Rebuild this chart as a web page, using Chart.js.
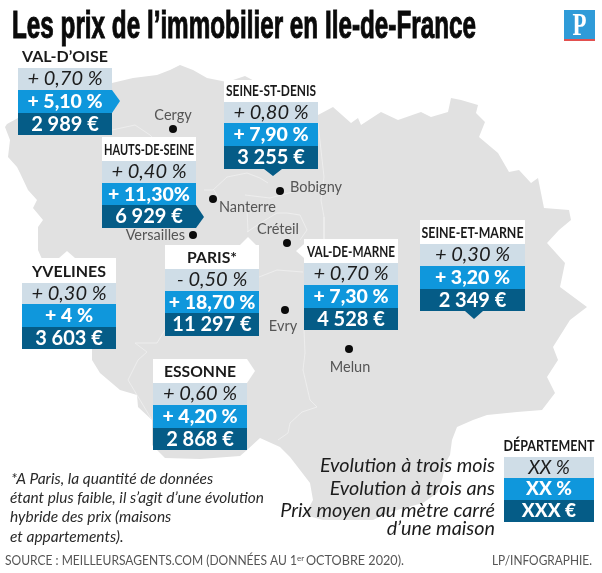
<!DOCTYPE html>
<html lang="fr"><head><meta charset="utf-8">
<style>html,body{margin:0;padding:0;background:#fff}canvas{display:block}</style>
<script src="https://cdn.jsdelivr.net/npm/chart.js@4"></script>
</head><body><canvas id="c" width="602" height="573"></canvas>
<script>
// ---------- values ----------
const departments = ["VAL-D’OISE","SEINE-ST-DENIS","HAUTS-DE-SEINE","YVELINES","PARIS*","ESSONNE","VAL-DE-MARNE","SEINE-ET-MARNE"];
const threeMonths = ["+ 0,70 %","+ 0,80 %","+ 0,40 %","+ 0,30 %","- 0,50 %","+ 0,60 %","+ 0,70 %","+ 0,30 %"];
const threeYears  = ["+ 5,10 %","+ 7,90 %","+ 11,30%","+ 4 %","+ 18,70 %","+ 4,20 %","+ 7,30 %","+ 3,20 %"];
const pricesM2    = ["2 989 €","3 255 €","6 929 €","3 603 €","11 297 €","2 868 €","4 528 €","2 349 €"];
const cityNames   = ["Cergy","Bobigny","Nanterre","Versailles","Créteil","Evry","Melun"];
const cityX       = [173,280,213,193,287,285,349];
const cityY       = [129,191,199,235,243,310,349];
const regionOutline = [[5,127],[7,124],[18,118],[18,100],[112,83],[133,78],[157,75],[170,70],[180,65],[193,70],[207,78],[227,82],[245,76],[318,115],[333,107],[351,123],[358,118],[361,125],[381,112],[398,120],[421,112],[431,117],[448,112],[451,98],[461,100],[478,105],[476,113],[485,122],[479,137],[498,153],[509,172],[519,170],[531,183],[538,178],[544,208],[569,210],[571,220],[559,230],[547,243],[565,263],[560,287],[587,307],[570,320],[553,347],[558,360],[547,377],[555,393],[542,410],[517,412],[487,415],[473,420],[457,427],[452,440],[450,455],[446,462],[442,480],[437,493],[423,503],[390,512],[373,520],[323,520],[305,515],[313,500],[310,483],[290,457],[280,447],[260,438],[247,450],[240,456],[200,459],[165,458],[152,445],[152,420],[138,407],[137,395],[120,390],[100,373],[92,360],[92,348],[60,300],[38,250],[38,227],[43,220],[33,208],[37,200],[28,190],[20,173],[17,167],[8,157],[10,140],[5,127]];
const borderLines = [
 [[152,420],[137,395],[128,380],[138,360],[147,352],[135,343],[157,343],[165,330]],
 [[278,440],[288,433],[290,423],[302,412],[317,407],[310,400],[303,370],[305,353],[304,330]],
 [[318,123],[324,177],[321,200],[324,217],[324,245]],
 [[204,190],[213,190],[227,177],[247,173],[260,178],[268,183]],
 [[245,195],[270,198],[300,190],[322,188]],
 [[247,232],[262,222],[277,213],[287,213],[300,215],[307,230],[300,240]],
 [[259,277],[277,270],[303,272]],
 [[112,130],[135,125],[150,135],[165,150]],
 [[214,190],[222,205],[247,208],[248,232]]
];
// ---------- layout ----------
const tableBox = [[18,112,68],[224,318,102],[102,196,161],[22,116,283],[165,259,269],[153,247,383],[304,398,263],[420,525,244]];
const labelTop = [46,80,137,258,245,359,239,220];
const rowEdges = [[22,45,67],[21,44,67],[22,44,67],[21,44,66],[22,44,67],[22,45,67],[22,45,67],[22,45,67]];
const LIGHT="#cfdde7",BLUE="#0f97dc",DARK="#055c87",MAP="#e1e1e1";

function poly(pts,color,w,line){
  const closed=!line;
  return {type:'scatter',showLine:true,data:pts.map(p=>({x:p[0],y:p[1]})),
    borderColor:line?color:'rgba(0,0,0,0)',borderWidth:line?w:0,backgroundColor:color,
    fill:closed?'shape':false,pointRadius:0,tension:0};
}
function rect(x0,x1,y0,y1){return [[x0,y0],[x1,y0],[x1,y1],[x0,y1],[x0,y0]];}

const paint=[];
paint.push(poly(regionOutline,MAP));
borderLines.forEach(l=>paint.push(poly(l,"#f0f0f0",0.8,true)));
departments.forEach((d,i)=>{
  const [x0,x1,top]=tableBox[i], lt=labelTop[i], e=rowEdges[i];
  let label=rect(x0,x1,lt,top);
  if(i===3) label=[[x0,lt],[59,lt],[67,251],[75,lt],[x1,lt],[x1,top],[x0,top],[x0,lt]];
  if(i===4) label=[[x0,lt],[240,lt],[248,237],[256,lt],[x1,lt],[x1,top],[x0,top],[x0,lt]];
  if(i===5) label=[[x0,lt],[x1,lt],[255,371],[x1,top],[x0,top],[x0,lt]];
  if(i===6) label=[[x0,lt],[x1,lt],[x1,top],[x0,top],[x0,258],[296,251],[x0,244],[x0,lt]];
  paint.push(poly(label,"#ffffff"));
  paint.push(poly(rect(x0,x1,top,top+e[0]),LIGHT));
  let b=rect(x0,x1,top+e[0],top+e[1]);
  if(i===0) b=[[x0,top+e[0]],[x1,top+e[0]],[120,top+33],[x1,top+e[1]],[x0,top+e[1]],[x0,top+e[0]]];
  paint.push(poly(b,BLUE));
  let c=rect(x0,x1,top+e[1],top+e[2]);
  if(i===2) c=[[x0,top+e[1]],[x1,top+e[1]],[204,217],[x1,top+e[2]],[x0,top+e[2]],[x0,top+e[1]]];
  if(i===1) c=[[x0,top+e[1]],[x1,top+e[1]],[x1,top+e[2]],[282,top+e[2]],[273,176],[264,top+e[2]],[x0,top+e[2]],[x0,top+e[1]]];
  if(i===7) c=[[x0,top+e[1]],[x1,top+e[1]],[x1,top+e[2]],[483,top+e[2]],[474,319],[465,top+e[2]],[x0,top+e[2]],[x0,top+e[1]]];
  paint.push(poly(c,DARK));
});
// key
paint.push(poly(rect(504,594,457,478),LIGHT));
paint.push(poly(rect(504,594,478,500),BLUE));
paint.push(poly(rect(504,594,500,522),DARK));
// logo
paint.push(poly(rect(564,595,10,39),"#2f9bd8"));
paint.push(poly(rect(564,595,39,41),"#e2504f"));
// cities
paint.push({type:'scatter',data:cityX.map((x,i)=>({x,y:cityY[i]})),pointRadius:4,pointBackgroundColor:"#0b0b0b",pointBorderWidth:0,showLine:false});
paint.forEach((d,i)=>d.order=paint.length-i);

const LATO='Lato, sans-serif';
const textPlugin={id:'texts',afterDatasetsDraw(ch){
  const c=ch.ctx,X=v=>ch.scales.x.getPixelForValue(v),Y=v=>ch.scales.y.getPixelForValue(v);
  function T(s,x,y,font,color,align,maxW){
    c.font=font;c.fillStyle=color;c.textAlign=align||'left';c.textBaseline='alphabetic';
    if(maxW) c.fillText(s,X(x),Y(y),maxW); else c.fillText(s,X(x),Y(y));
  }
  // title
  T("Les prix de l’immobilier en Ile-de-France",12,38,'bold 38px "Liberation Sans Narrow", sans-serif',"#0a0a0a",'left',464);
  c.strokeStyle="#0a0a0a";c.lineWidth=1;c.strokeText("Les prix de l’immobilier en Ile-de-France",X(12),Y(38),464);
  T("P",579.5,35,'bold 31px "Liberation Serif", serif',"#ffffff",'center',14);
  // tables
  const labelW=[86,90,90,74,50,72,88,102];
  departments.forEach((d,i)=>{
    const [x0,x1,top]=tableBox[i],e=rowEdges[i],m=(x0+x1)/2;
    const ly=top-6;
    T(d,m,ly,'bold 16px '+LATO,"#1a1a1a",'center',labelW[i]);
    T(threeMonths[i],m,top+17,'italic 400 20px '+LATO,"#1c1c1c",'center');
    T(threeYears[i],m,top+e[0]+18,'900 19.5px '+LATO,"#fff",'center');
    T(pricesM2[i],m,top+e[1]+18,'bold 20px '+LATO,"#fff",'center');
  });
  // cities
  const G="#555",F='400 14.5px '+LATO;
  T(cityNames[0],173,120,F,G,'center');
  T(cityNames[1],290,192,F,G,'left');
  T(cityNames[2],219,212,F,G,'left');
  T(cityNames[3],185,240,F,G,'right');
  T(cityNames[4],278,234,F,G,'center');
  T(cityNames[5],283,331,F,G,'center');
  T(cityNames[6],350,372,F,G,'center');
  // key
  const K='italic 400 19.8px '+LATO;
  T("Evolution à trois mois",495,472,K,"#1c1c1c",'right');
  T("Evolution à trois ans",495,495,K,"#1c1c1c",'right');
  T("Prix moyen au mètre carré",495,517,K,"#1c1c1c",'right');
  T("d’une maison",495,535,K,"#1c1c1c",'right');
  T("DÉPARTEMENT",549,451,'bold 16px '+LATO,"#1a1a1a",'center',91);
  T("XX %",549,474,'italic 400 19px '+LATO,"#1c1c1c",'center');
  T("XX %",549,495,'900 19px '+LATO,"#fff",'center');
  T("XXX €",549,517,'900 19px '+LATO,"#fff",'center');
  // footnote
  const N='italic 400 15.5px '+LATO;
  T("*A Paris, la quantité de données",11,484,N,"#2a2a2a",'left');
  T("étant plus faible, il s’agit d’une évolution",10,503,N,"#2a2a2a",'left',254);
  T("hybride des prix (maisons",10,522,N,"#2a2a2a",'left');
  T("et appartements).",10,542,N,"#2a2a2a",'left');
  // source
  const S='400 13px '+LATO;
  T("SOURCE : MEILLEURSAGENTS.COM (DONNÉES AU 1",5,565,S,"#555",'left',292);
  T("er",297,561,'400 8px '+LATO,"#555",'left');
  T("OCTOBRE 2020).",306,565,S,"#555",'left',98);
  T("LP/INFOGRAPHIE.",592,565,S,"#555",'right',100);
}};

new Chart(document.getElementById('c'),{
  type:'scatter',
  data:{datasets:paint},
  options:{responsive:false,animation:false,events:[],
    layout:{padding:0,autoPadding:false},
    plugins:{legend:{display:false},tooltip:{enabled:false}},
    scales:{
      x:{type:'linear',min:0,max:602,display:false},
      y:{type:'linear',min:0,max:573,reverse:true,display:false}
    }},
  plugins:[textPlugin]
});
</script></body></html>
